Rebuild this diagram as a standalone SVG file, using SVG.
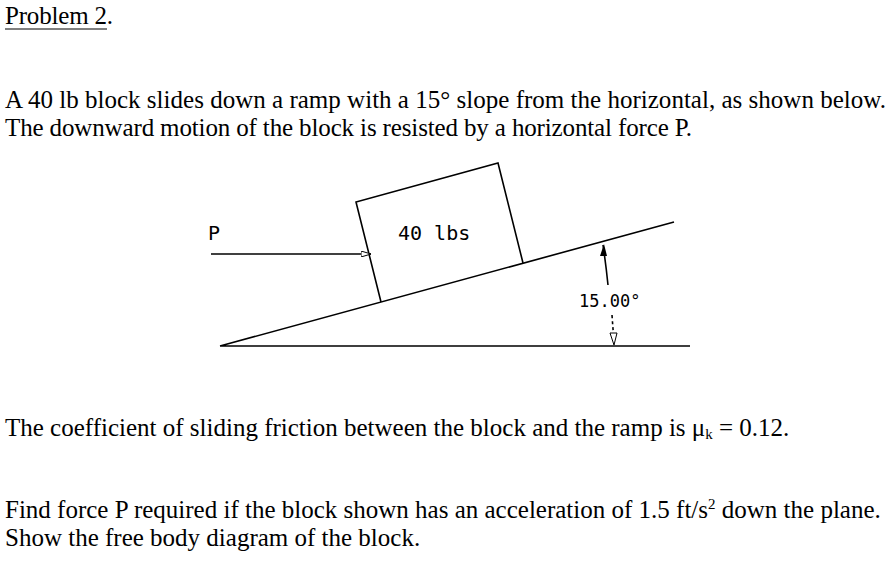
<svg xmlns="http://www.w3.org/2000/svg" width="892" height="562" viewBox="0 0 892 562">
<style>
.t{font-family:"Liberation Serif",serif;font-size:25px;fill:#000}
.m{font-family:"DejaVu Sans Mono",monospace;fill:#000}
.l{stroke:#000;stroke-width:1.6;fill:none}
</style>
<defs><marker id="a" markerWidth="10" markerHeight="6" refX="10" refY="3" orient="auto" markerUnits="userSpaceOnUse"><path d="M0,0L10,3L0,6Z" fill="#fff" stroke="#000" stroke-width="1"/></marker></defs>
<rect width="892" height="562" fill="#fff"/>
<text class="t" x="5" y="24" textLength="108">Problem 2.</text>
<line x1="5" y1="29" x2="107" y2="29" stroke="#000" stroke-width="1"/>
<text class="t" x="5" y="108" textLength="881">A 40 lb block slides down a ramp with a 15° slope from the horizontal, as shown below.</text>
<text class="t" x="5" y="136" textLength="687">The downward motion of the block is resisted by a horizontal force P.</text>
<g id="ramp"><path class="l" d="M220,346L674,222M220,346L690,346"/></g>
<g id="block"><path class="l" d="M381,302L356,202L498,163L523,263"/><text class="m" x="398" y="240" font-size="20">40 lbs</text></g>
<g id="connectors">
<line class="l" x1="211" y1="254" x2="371" y2="254" marker-end="url(#a)"/>
<path class="l" stroke-width="1.2" d="M603,245Q606,265 608,285"/>
<path d="M604,244L600,256L607,256Z" fill="#000"/>
<path class="l" stroke-width="1.2" stroke-dasharray="3,3" d="M612,315Q613,330 614,340"/>
<path d="M614,345L610,333L617,333Z" fill="#fff" stroke="#000"/>
</g>
<text class="m" x="208" y="240" font-size="20">P</text>
<text class="m" x="579" y="307" font-size="17">15.00°</text>
<text class="t" x="5" y="436">The coefficient of sliding friction between the block and the ramp is μ<tspan font-size="15" dy="3">k</tspan><tspan dy="-3"> = 0.12.</tspan></text>
<text class="t" x="5" y="518">Find force P required if the block shown has an acceleration of 1.5 ft/s<tspan font-size="15" dy="-9">2</tspan><tspan dy="9"> down the plane.</tspan></text>
<text class="t" x="5" y="546">Show the free body diagram of the block.</text>
</svg>
